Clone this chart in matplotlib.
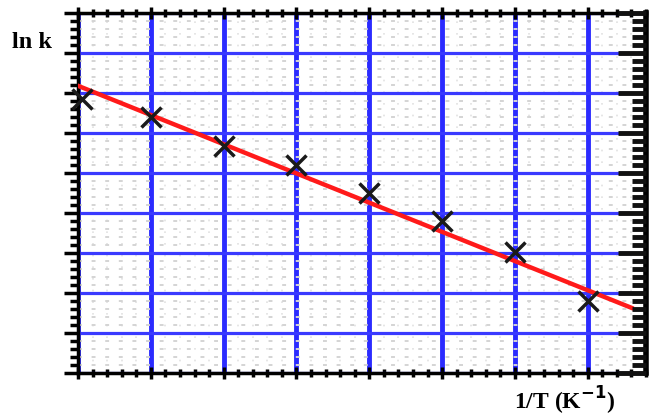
import matplotlib
matplotlib.use("Agg")
import matplotlib.pyplot as plt
from matplotlib.ticker import MultipleLocator, NullFormatter

# data (arbitrary units: 1 unit = one grid cell)
inv_T = [0.05, 1.0, 2.0, 3.0, 4.0, 5.0, 6.0, 7.0]
ln_k = [6.85, 6.4, 5.68, 5.2, 4.5, 3.8, 3.03, 1.8]
fit_x = [0.0, 7.6]
fit_y = [7.18, 1.63]
x_label = "1/T (K$^{\\mathbf{-1}}$)"
y_label = "ln k"

fig = plt.figure(figsize=(6.5, 4.16), dpi=100)
ax = fig.add_axes([78/650, 1-373/416, (646-78)/650, (373-13)/416])
ax.set_xlim(0, 7.8)
ax.set_ylim(0, 9)

ax.xaxis.set_major_locator(MultipleLocator(1))
ax.xaxis.set_minor_locator(MultipleLocator(0.2))
ax.yaxis.set_major_locator(MultipleLocator(1))
ax.yaxis.set_minor_locator(MultipleLocator(0.2))
ax.xaxis.set_major_formatter(NullFormatter())
ax.yaxis.set_major_formatter(NullFormatter())

# faint grey background texture
ax.grid(which="minor", axis="y", color="#d4d4d4", lw=1.4, ls=(0, (2, 5)), zorder=0)
ax.grid(which="minor", axis="x", color="#e2e2e2", lw=1.2, ls=(0, (1, 6)), zorder=0)
# blue major grid
ax.grid(which="major", axis="x", color="#2b2bff", lw=3.5, zorder=1)
ax.grid(which="major", axis="y", color="#3a3aff", lw=2.3, zorder=1)
ax.set_axisbelow(True)

ax.plot(fit_x, fit_y, color="#ff1a1a", lw=3.2, zorder=3)
ax.plot(inv_T, ln_k, ls="none", marker="x", ms=14, mew=2.5, color="#1a1a1a",
        zorder=4, clip_on=False)

for s in ["left", "bottom", "top"]:
    ax.spines[s].set_linewidth(2.5)
ax.spines["right"].set_linewidth(4)

ax.tick_params(axis="x", which="both", bottom=True, top=True, direction="inout",
               width=2.5, color="black")
ax.tick_params(axis="x", which="major", length=9)
ax.tick_params(axis="x", which="minor", length=6)
ax.tick_params(axis="y", which="both", left=True, right=False, direction="out",
               width=2.5, color="black")
ax.tick_params(axis="y", which="major", length=10)
ax.tick_params(axis="y", which="minor", length=6)

# right-hand thick inward ticks
ax2 = ax.twinx()
ax2.set_ylim(0, 9)
ax2.yaxis.set_major_locator(MultipleLocator(1))
ax2.yaxis.set_minor_locator(MultipleLocator(0.2))
ax2.yaxis.set_major_formatter(NullFormatter())
ax2.tick_params(axis="y", which="both", direction="in", width=3.5, color="#111111")
ax2.tick_params(axis="y", which="major", length=20)
ax2.tick_params(axis="y", which="minor", length=10)
for s in ax2.spines.values():
    s.set_visible(False)

fig.text(32/650, 1-43/416, y_label, family="Liberation Serif", weight="bold",
         fontsize=17.5, ha="center", va="center")
fig.text(565/650, 1-401/416, x_label, family="Liberation Serif", weight="bold",
         fontsize=17, ha="center", va="center")

fig.savefig("out.png", dpi=100)
